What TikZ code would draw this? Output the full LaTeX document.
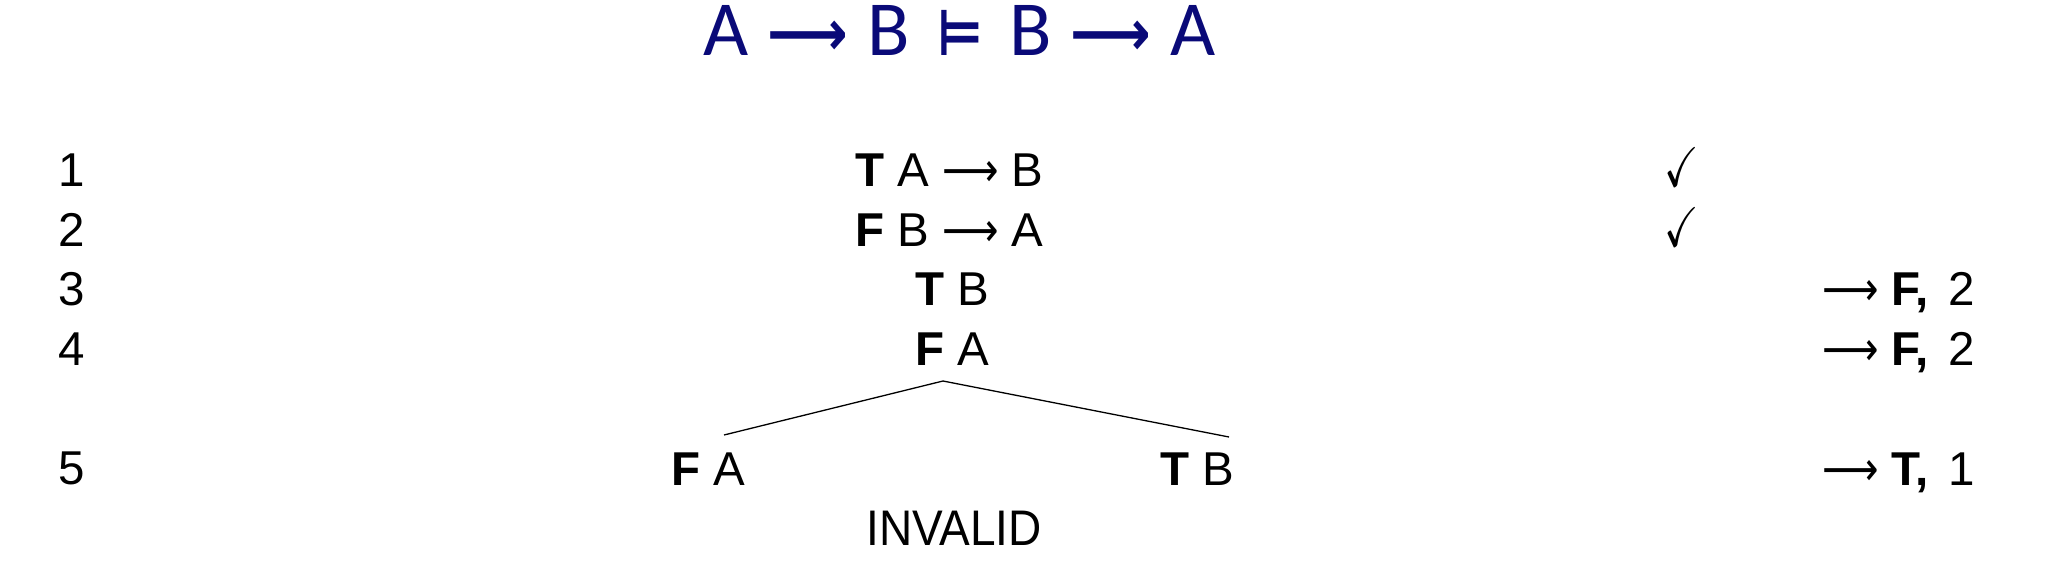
\RequirePackage{fix-cm}
\documentclass[tikz,border=0pt]{standalone}
\usepackage{fontspec}
\usepackage{amssymb}
\usepackage{graphicx}
\setmainfont{Liberation Sans}
\newfontfamily\titlefont{Carlito}
\newfontfamily\symfont{DejaVu Sans}
\definecolor{navy}{RGB}{10,10,120}
\newcommand{\arr}{{\symfont\scalebox{0.83}[1]{⟶}}}
\newcommand{\tarr}{{\symfont\bfseries\fontsize{64}{70}\selectfont\scalebox{0.88}[1]{⟶}}}
\newcommand{\tmodels}{{\symfont\bfseries\fontsize{64}{70}\selectfont\scalebox{0.78}[1]{⊨}}}
\begin{document}
\begin{tikzpicture}[x=1pt,y=-1pt,
  every node/.style={inner sep=0pt,outer sep=0pt},
  body/.style={font=\fontsize{47.5}{57}\selectfont},
  num/.style={body,anchor=base west},
  formula/.style={body,anchor=base west},
  midtext/.style={body,anchor=base},
  checkstyle/.style={font=\fontsize{56}{60}\selectfont,anchor=base west,xscale=0.74},
  titlestyle/.style={font=\titlefont\fontsize{78}{90}\selectfont,text=navy,anchor=base},
  branch/.style={line width=1.3pt}]
\useasboundingbox (0,0) rectangle (2046,562);
\node[titlestyle] (title) at (960,55) {A\hspace{18pt}\tarr\hspace{20pt}B\hspace{27pt}\tmodels\hspace{27pt}B\hspace{18pt}\tarr\hspace{20pt}A};
% line numbers
\node[num] (n1) at (58,186) {1};
\node[num] (n2) at (58,246) {2};
\node[num] (n3) at (58,305) {3};
\node[num] (n4) at (58,365) {4};
\node[num] (n5) at (58,484) {5};
% formulas
\node[formula] (f1) at (855,186) {\textbf{T} A \arr{} B};
\node[formula] (f2) at (855,246) {\textbf{F} B \arr{} A};
\node[midtext] (f3) at (952,305) {\textbf{T} B};
\node[midtext] (f4) at (952,365) {\textbf{F} A};
\node[midtext] (f5l) at (708,485) {\textbf{F} A};
\node[midtext] (f5r) at (1197,485) {\textbf{T} B};
\node[anchor=base,xscale=0.92,font=\fontsize{50}{60}\selectfont] (inv) at (954,545) {INVALID};
% checks
\node[checkstyle] (c1) at (1664,186) {$\checkmark$};
\node[checkstyle] (c2) at (1664,246) {$\checkmark$};
% justifications
\node[formula] (j3) at (1822,305) {\arr{} \textbf{F,}\hspace{20pt}2};
\node[formula] (j4) at (1822,365) {\arr{} \textbf{F,}\hspace{20pt}2};
\node[formula] (j5) at (1822,485) {\arr{} \textbf{T,}\hspace{20pt}1};
% tree
\coordinate (apex) at (943,381);
\coordinate (lend) at (724,435);
\coordinate (rend) at (1229,437);
\draw[branch] (lend) -- (apex) -- (rend);
\end{tikzpicture}
\end{document}
